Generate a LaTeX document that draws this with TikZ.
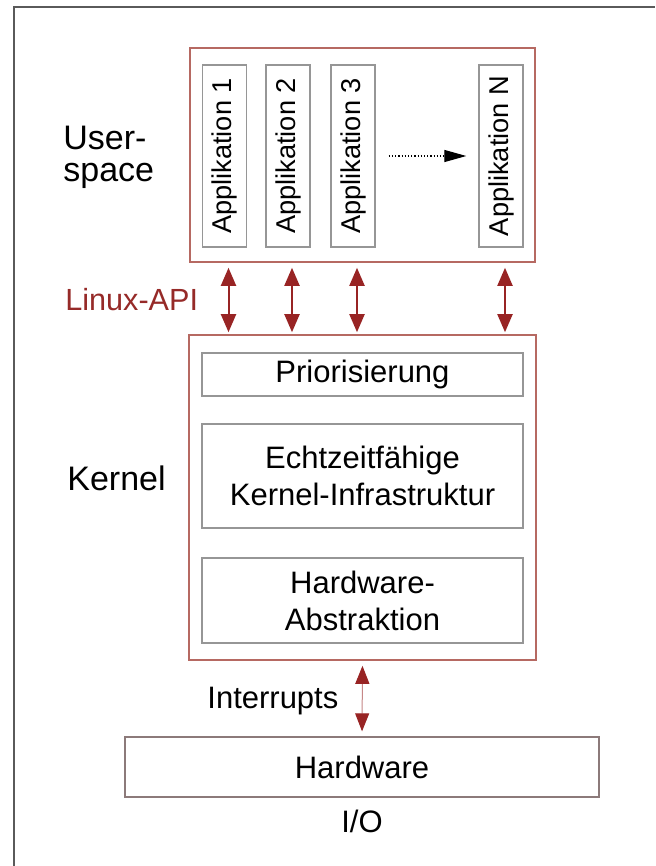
\documentclass[tikz,border=0pt]{standalone}
\usepackage{fontspec}
\setmainfont{Liberation Sans}
\usetikzlibrary{arrows.meta}
\definecolor{boxred}{RGB}{182,105,98}
\definecolor{arrowred}{RGB}{152,36,36}
\definecolor{apired}{RGB}{150,42,40}
\definecolor{boxgrey}{RGB}{150,150,150}
\definecolor{hwgrey}{RGB}{140,122,122}
\definecolor{framegrey}{RGB}{90,90,90}
\begin{document}
\begin{tikzpicture}[x=0.5pt,y=-0.5pt,
  outerbox/.style={draw=boxred,line width=0.8pt,inner sep=0pt,rectangle},
  innerbox/.style={draw=boxgrey,line width=0.7pt,inner sep=0pt,rectangle,align=center,
    font=\fontsize{15.5}{18.5}\selectfont},
  appbox/.style={draw=boxgrey,line width=0.7pt,inner sep=0pt,rectangle,rotate=90,
    minimum width=91pt,minimum height=22pt,font=\fontsize{13.6}{15}\selectfont},
  apiarrow/.style={draw=arrowred,line width=1pt,
    {Triangle[length=9pt,width=7.5pt]}-{Triangle[length=9pt,width=7.5pt]}},
  intarrow/.style={draw=arrowred!55,line width=0.5pt,
    {Triangle[length=9pt,width=7pt,color=arrowred]}-{Triangle[length=9pt,width=7pt,color=arrowred]}},
  sidelbl/.style={inner sep=0pt,font=\fontsize{17}{16}\selectfont,align=left},
  txtlbl/.style={inner sep=0pt,font=\fontsize{15.5}{18.5}\selectfont}
]
\useasboundingbox (0,0) rectangle (655,866);
\fill[white] (0,0) rectangle (655,866);
% frame (top and left edges)
\draw[framegrey,line width=1pt] (14,866) -- (14,7.5) -- (655,7.5);

% userspace
\node[outerbox,minimum width=172.5pt,minimum height=107pt] (us) at (362.5,155) {};
\node[appbox] (app1) at (224.5,156) {Applikation 1};
\node[appbox] (app2) at (288,156) {Applikation 2};
\node[appbox] (app3) at (353,156) {Applikation 3};
\node[appbox] (appn) at (501,156) {Applikation N};
\draw[black,densely dotted,line width=0.6pt,-{Triangle[length=11pt,width=6pt]},
  shorten <=6.5pt,shorten >=6pt] (app3.center -| app3.south) -- (appn.center -| appn.north);

% kernel
\node[outerbox,minimum width=173.5pt,minimum height=162.5pt] (kern) at (362.5,497.5) {};
\node[innerbox,minimum width=160.5pt,minimum height=21.5pt] (prio) at (362.5,374.5) {Priorisierung};
\node[innerbox,minimum width=160.5pt,minimum height=52pt] (rt) at (362.5,476) {Echtzeitfähige\\Kernel-Infrastruktur};
\node[innerbox,minimum width=160.5pt,minimum height=42.5pt] (hwa) at (362.5,600.5) {Hardware-\\Abstraktion};

% API arrows
\foreach \a in {app1,app2,app3,appn}{
  \draw[apiarrow,shorten <=2.5pt,shorten >=1pt]
    ([xshift=2pt]\a.center |- us.south) -- ([xshift=2pt]\a.center |- kern.north);
}

% hardware
\node[draw=hwgrey,line width=0.7pt,inner sep=0pt,minimum width=237pt,minimum height=30pt,
  font=\fontsize{15.5}{18.5}\selectfont] (hw) at (362,767) {Hardware};
\draw[intarrow,shorten <=2.5pt,shorten >=2.5pt] (kern.south) -- (hw.north);

% labels
\node[sidelbl,anchor=north west] (lus) at (63,126) {User-\\space};
\node[sidelbl,anchor=base west,text=apired,font=\fontsize{15.3}{18}\selectfont] (lapi) at (65,310) {Linux-API};
\node[sidelbl,anchor=base west] (lkern) at (67,490) {Kernel};
\node[txtlbl,anchor=base west] (lint) at (207,708) {Interrupts};
\node[txtlbl,anchor=base] (lio) at (362,832) {I/O};
\end{tikzpicture}
\end{document}
